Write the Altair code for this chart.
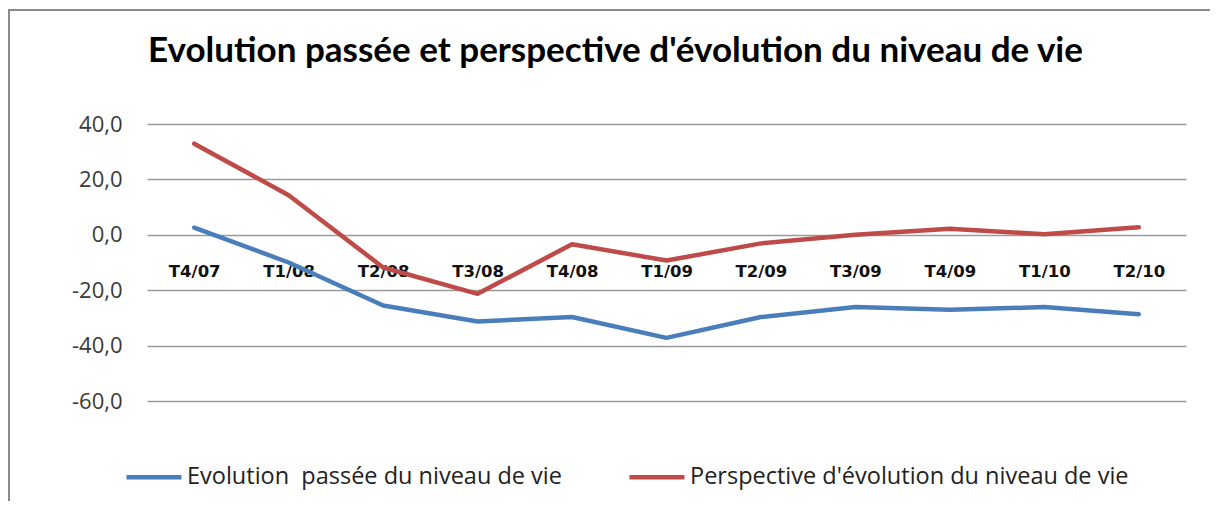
import altair as alt
import pandas as pd

categories = ["T4/07", "T1/08", "T2/08", "T3/08", "T4/08", "T1/09",
              "T2/09", "T3/09", "T4/09", "T1/10", "T2/10"]
passee = [2.6, -10.0, -25.5, -31.3, -29.7, -37.2, -29.7, -26.1, -27.1, -26.1, -28.7]
perspective = [32.9, 14.3, -11.8, -21.3, -3.4, -9.3, -3.1, 0.0, 2.2, 0.2, 2.7]
series_names = ["Evolution\u00a0 passée du niveau de vie",
                "Perspective d'évolution du niveau de vie"]
series_colors = ["#4A7EBB", "#BE4B48"]
y_ticks = [-60, -40, -20, 0, 20, 40]

rows = []
for i, c in enumerate(categories):
    rows.append({"cat": c, "serie": series_names[0], "val": passee[i], "ord": i})
    rows.append({"cat": c, "serie": series_names[1], "val": perspective[i], "ord": i})
df = pd.DataFrame(rows)

W, H = 1039, 277

lines = alt.Chart(df).mark_line(strokeWidth=4.5, strokeCap="round", strokeJoin="round").encode(
    x=alt.X("cat:N", sort=categories, title=None,
            scale=alt.Scale(type="point", padding=0.5),
            axis=alt.Axis(orient="bottom", offset=-167, domain=False, ticks=False,
                          grid=False, labelAngle=0, labelPadding=37,
                          labelBaseline="middle", labelFont="DejaVu Sans",
                          labelFontWeight="bold", labelFontSize=16.5, labelColor="#111111")),
    y=alt.Y("val:Q", title=None,
            scale=alt.Scale(domain=[-60, 40], nice=False, zero=False),
            axis=alt.Axis(values=y_ticks, domain=False, ticks=False, grid=True,
                          gridColor="#9a9a9a", gridWidth=1.5,
                          labelExpr="replace(replace(format(datum.value, '.1f'), '.', ','), '\u2212', '-')",
                          labelFont="Open Sans", labelFontSize=22, labelColor="#3a3a3a",
                          labelPadding=25)),
    color=alt.Color("serie:N", sort=series_names,
                    scale=alt.Scale(domain=series_names, range=series_colors),
                    legend=alt.Legend(orient="none", legendX=-23, legendY=323,
                                      direction="horizontal", title=None,
                                      symbolType="stroke", symbolSize=3025,
                                      symbolStrokeWidth=4.5, labelFont="Open Sans",
                                      labelFontSize=23.5, labelColor="#222222",
                                      labelLimit=0,
                                      labelOffset=3, columnPadding=58, padding=0)),
    order="ord:Q",
)

frame = alt.Chart(alt.Data(values=[{}])).mark_rect(
    fill=None, stroke="#8a8a8a", strokeWidth=2
).encode(
    x=alt.value(-138), x2=alt.value(1300),
    y=alt.value(-114), y2=alt.value(600),
)

chart = alt.layer(frame, lines).properties(
    width=W, height=H,
    background="white",
    title=alt.TitleParams(
        "Evolution passée et perspective d'évolution du niveau de vie",
        font="Lato", fontSize=35, fontWeight="bold", color="#000000",
        anchor="middle", dx=-51, offset=-88, baseline="alphabetic", frame="group",
    ),
    autosize=alt.AutoSizeParams(type="none"),
    padding={"left": 139, "top": 116, "right": 24, "bottom": 100},
).configure_view(stroke=None)

chart.save("out.html", embed_options={"renderer": "svg", "actions": False})
